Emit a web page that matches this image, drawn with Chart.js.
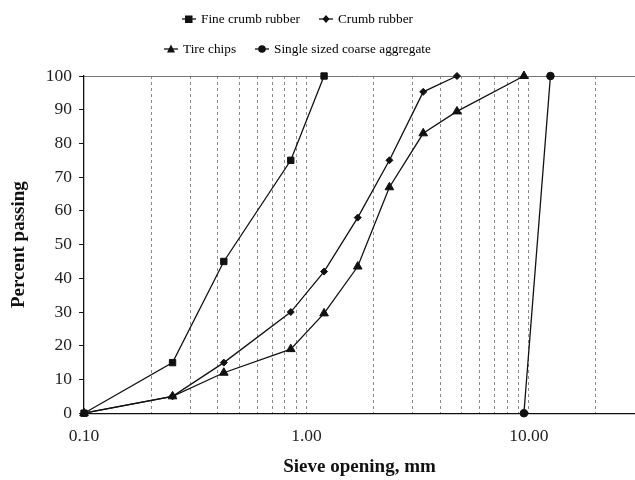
<!DOCTYPE html>
<html>
<head>
<meta charset="utf-8">
<script src="https://cdn.jsdelivr.net/npm/chart.js@4"></script>
<style>
  body { margin: 0; background: #fff; }
  #wrap { position: relative; width: 635px; height: 480px; }
  #legend { position: absolute; left: 0; top: 0; width: 635px; font-family: "Liberation Serif", serif; font-size: 13.3px; color: #000; }
  .row { position: absolute; height: 20px; line-height: 20px; white-space: nowrap; }
  .item { position: absolute; top: 0; }
  .item svg { position: absolute; top: 4px; left: 0; }
  .item span { position: absolute; left: 19px; top: 0; }
</style>
</head>
<body>
<div id="wrap">
  <canvas id="chart" width="635" height="480"></canvas>
  <div id="legend"></div>
</div>
<script>
// Sieve sizes (mm) and percent passing
const fineX = [0.1, 0.25, 0.425, 0.85, 1.2];
const fineY = [0, 15, 45, 75, 100];
const crumbX = [0.1, 0.25, 0.425, 0.85, 1.2, 1.7, 2.36, 3.35, 4.75];
const crumbY = [0, 5, 15, 30, 42, 58, 75, 95.3, 100];
const tireX = [0.1, 0.25, 0.425, 0.85, 1.2, 1.7, 2.36, 3.35, 4.75, 9.5];
const tireY = [0, 5, 12, 19, 29.6, 43.5, 67, 83, 89.5, 100];
const coarseX = [9.5, 12.5];
const coarseY = [0, 100];

const seriesNames = ['Fine crumb rubber', 'Crumb rubber', 'Tire chips', 'Single sized coarse aggregate'];

// log axis grid positions and the ones that get a label
const xGridValues = [0.1, 0.2, 0.3, 0.4, 0.5, 0.6, 0.7, 0.8, 0.9, 1, 2, 3, 4, 5, 6, 7, 8, 9, 10, 20];
const xLabelValues = [0.1, 1, 10];

function pairs(xs, ys) {
    return xs.map((x, i) => ({ x: x, y: ys[i] }));
}

function makeSet(label, xs, ys, style, radius) {
    return {
        label: label,
        data: pairs(xs, ys),
        borderColor: '#111',
        backgroundColor: '#111',
        borderWidth: 1.3,
        pointStyle: style,
        pointRadius: radius,
        pointHoverRadius: radius,
        pointBorderWidth: 1,
        tension: 0,
        clip: false
    };
}

// html legend, two rows like the original
const legendRows = [
    { top: 9, items: [{ left: 182, shape: 'rect', name: seriesNames[0] }, { left: 319, shape: 'diamond', name: seriesNames[1] }] },
    { top: 39, items: [{ left: 164, shape: 'tri', name: seriesNames[2] }, { left: 255, shape: 'circle', name: seriesNames[3] }] }
];

function markerSvg(shape) {
    let m = '';
    if (shape === 'rect') m = '<rect x="3" y="2.5" width="7.5" height="7.5" fill="#111"/>';
    if (shape === 'diamond') m = '<polygon points="7,2 10.5,6 7,10 3.5,6" fill="#111"/>';
    if (shape === 'tri') m = '<polygon points="7,1.5 11,9.5 3,9.5" fill="#111"/>';
    if (shape === 'circle') m = '<circle cx="7" cy="6" r="3.8" fill="#111"/>';
    return '<svg width="14" height="12"><line x1="0" y1="6" x2="14" y2="6" stroke="#111" stroke-width="1.3"/>' + m + '</svg>';
}

const legendEl = document.getElementById('legend');
legendRows.forEach(r => {
    const row = document.createElement('div');
    row.className = 'row';
    row.style.top = r.top + 'px';
    row.style.left = '0px';
    r.items.forEach(it => {
        const d = document.createElement('div');
        d.className = 'item';
        d.style.left = it.left + 'px';
        d.innerHTML = markerSvg(it.shape) + '<span>' + it.name + '</span>';
        row.appendChild(d);
    });
    legendEl.appendChild(row);
});

const serif = '"Liberation Serif", "Times New Roman", serif';

const ctx = document.getElementById('chart').getContext('2d');
new Chart(ctx, {
    type: 'line',
    data: {
        datasets: [
            makeSet(seriesNames[0], fineX, fineY, 'rect', 4.5),
            makeSet(seriesNames[1], crumbX, crumbY, 'rectRot', 3.5),
            makeSet(seriesNames[2], tireX, tireY, 'triangle', 5),
            makeSet(seriesNames[3], coarseX, coarseY, 'circle', 3.8)
        ]
    },
    options: {
        responsive: false,
        animation: false,
        layout: { autoPadding: false, padding: { top: 76, right: 0, left: 8, bottom: 2 } },
        plugins: {
            legend: { display: false },
            tooltip: { enabled: false }
        },
        scales: {
            x: {
                type: 'logarithmic',
                min: 0.1,
                max: 30,
                afterBuildTicks: function(scale) {
                    scale.ticks = xGridValues.map(v => ({ value: v }));
                },
                ticks: {
                    autoSkip: false,
                    maxRotation: 0,
                    padding: 13,
                    color: '#222',
                    font: { family: serif, size: 17.5 },
                    callback: function(value) {
                        return xLabelValues.some(v => Math.abs(v - value) < 1e-9) ? Number(value).toFixed(2) : '';
                    }
                },
                grid: {
                    drawTicks: false,
                    lineWidth: 1,
                    color: function(c) {
                        return c.tick && Math.abs(c.tick.value - 0.1) < 1e-9 ? 'rgba(0,0,0,0)' : '#8a8a8a';
                    }
                },
                border: { display: true, color: '#111', width: 1.3, dash: [3, 3] },
                title: {
                    display: true,
                    text: 'Sieve opening, mm',
                    color: '#111',
                    font: { family: serif, size: 19, weight: 'bold' },
                    padding: { top: -5, bottom: 0 }
                }
            },
            y: {
                min: 0,
                max: 100,
                ticks: {
                    stepSize: 10,
                    padding: 7,
                    color: '#222',
                    font: { family: serif, size: 17.5 }
                },
                grid: {
                    drawTicks: true,
                    tickLength: 5,
                    tickColor: '#111',
                    color: function(c) {
                        return c.tick && c.tick.value === 100 ? '#777' : 'rgba(0,0,0,0)';
                    }
                },
                border: { display: true, color: '#111', width: 1.3 },
                title: {
                    display: true,
                    text: 'Percent passing',
                    color: '#111',
                    font: { family: serif, size: 19, weight: 'bold' },
                    padding: { top: 0, bottom: 8 }
                }
            }
        }
    }
});
</script>
</body>
</html>
